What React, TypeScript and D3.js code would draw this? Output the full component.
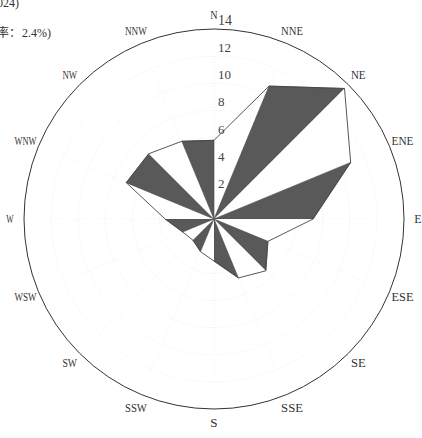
import React from "react";
import * as d3 from "d3";

const directions = ["N","NNE","NE","ENE","E","ESE","SE","SSE","S","SSW","SW","WSW","W","WNW","NW","NNW"];
const frequencies = [5.8, 10.6, 13.6, 10.9, 7.3, 4.3, 5.4, 4.7, 3.1, 2.6, 2.2, 2.5, 3.6, 7.0, 6.8, 6.2];
const radialTicks = [2, 4, 6, 8, 10, 12, 14];
const gridTicks = [2, 4, 6, 8, 10, 12];
const maxValue = 14;
const titleLine1 = "全年风向玫瑰图（2024)";
const titleLine2Cjk = "(静风频率：";
const titleLine2Num = "2.4%)";

export default function App() {
  const W = 422, H = 438;
  const cx = 214, cy = 219, R = 190;
  const r = d3.scaleLinear().domain([0, maxValue]).range([0, R]);
  const ang = d3.scaleLinear().domain([0, directions.length]).range([0, 2 * Math.PI]);
  const pt = (i: number, v: number): [number, number] => {
    const a = ang(i);
    return [cx + r(v) * Math.sin(a), cy - r(v) * Math.cos(a)];
  };
  const n = directions.length;
  const pts = frequencies.map((v, i) => pt(i, v));
  const line = d3.line().curve(d3.curveLinearClosed);
  const tri = (i: number) => {
    const a = pts[i], b = pts[(i + 1) % n];
    return line([[cx, cy], a, b]) as string;
  };
  const serif = "'Liberation Serif', 'DejaVu Serif', serif";
  const cjk = "'Liberation Serif', 'Noto Sans CJK SC', serif";
  return (
    <svg width={W} height={H} style={{ position: "absolute", left: 0, top: 0, background: "#fff" }}>
      {/* faint grid */}
      {gridTicks.map((t) => (
        <circle key={t} cx={cx} cy={cy} r={r(t)} fill="none" stroke="#e8e8e8" strokeWidth={0.8} strokeDasharray="1,2" />
      ))}
      {directions.map((d, i) => {
        const p = pt(i, 12);
        return <line key={d} x1={cx} y1={cy} x2={p[0]} y2={p[1]} stroke="#eeeeee" strokeWidth={0.8} strokeDasharray="1,2" />;
      })}
      <circle cx={cx} cy={cy} r={r(maxValue)} fill="none" stroke="#333" strokeWidth={1} />
      {/* petals */}
      {pts.map((_, i) => (
        <path key={"t" + i} d={tri(i)}
          fill={i % 2 === 1 ? "#595959" : "#ffffff"}
          stroke={i % 2 === 1 ? "#4a4a4a" : "none"} strokeWidth={0.6} />
      ))}
      <path d={line(pts) as string} fill="none" stroke="#444" strokeWidth={0.9} />
      {/* radial value labels */}
      {radialTicks.map((t) => (
        <text key={t} x={cx + 4} y={cy - r(t) - 4} fontFamily={serif}
          fontSize={t === 14 ? 14 : 13} fill="#444">{t}</text>
      ))}
      {/* direction labels */}
      {directions.map((d, i) => {
        const a = ang(i);
        const rr = 204;
        const x = cx + rr * Math.sin(a);
        const y = cy - rr * Math.cos(a);
        return (
          <text key={d} x={x} y={y} dy="0.35em" textAnchor="middle" fontFamily={serif}
            fontSize={12} fill="#333" textLength={d.length * 7.3} lengthAdjust="spacingAndGlyphs">{d}</text>
        );
      })}
      {/* titles */}
      <text x={19} y={7} textAnchor="end" fontFamily={cjk} fontSize={12} fill="#333">{titleLine1}</text>
      <text y={37} fontFamily={cjk} fontSize={12} fill="#333">
        <tspan x={21} textAnchor="end">{titleLine2Cjk}</tspan>
        <tspan x={22} textLength={29} lengthAdjust="spacing">{titleLine2Num}</tspan>
      </text>
    </svg>
  );
}
